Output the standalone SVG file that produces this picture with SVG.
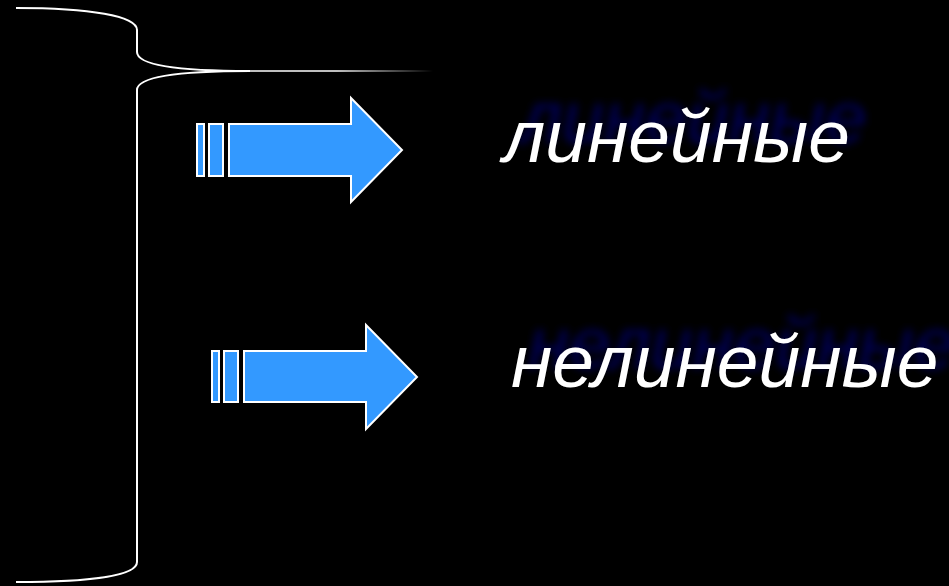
<svg xmlns="http://www.w3.org/2000/svg" width="949" height="586" viewBox="0 0 949 586">
  <defs>
    <linearGradient id="fadeLine" gradientUnits="userSpaceOnUse" x1="220" y1="71" x2="433" y2="71">
      <stop offset="0" stop-color="#fff" stop-opacity="1"/>
      <stop offset="0.55" stop-color="#fff" stop-opacity="1"/>
      <stop offset="1" stop-color="#fff" stop-opacity="0"/>
    </linearGradient>
    <filter id="blur" x="-10%" y="-40%" width="120%" height="180%">
      <feGaussianBlur stdDeviation="4"/>
    </filter>
  </defs>
  <style>
    .bracket { fill: none; stroke: #fff; stroke-width: 2; }
    .arrow { fill: #3399FF; stroke: #fff; stroke-width: 2; }
    .label { font-family: "Liberation Sans", Arial, sans-serif; font-style: italic; font-size: 75px; fill: #fff; }
    .shadow { font-family: "Liberation Sans", Arial, sans-serif; font-style: italic; font-size: 75px; fill: #00005a; filter: url(#blur); }
  </style>
  <rect width="949" height="586" fill="#000"/>
  <g id="connectors">
    <path class="bracket" d="M16,8 C90,8 137,16 137,30 L137,52 C137,66 185,71 250,71"/>
    <path class="bracket" d="M250,71 C185,71 137,76 137,90 L137,562 C137,576 90,582 16,582"/>
    <line x1="220" y1="71" x2="433" y2="71" stroke="url(#fadeLine)" stroke-width="1.5"/>
  </g>
  <g id="arrow1">
    <rect class="arrow" x="197" y="124" width="7" height="52"/>
    <rect class="arrow" x="209" y="124" width="14" height="52"/>
    <path class="arrow" d="M229,124 L351,124 L351,98 L402,150 L351,202 L351,176 L229,176 Z"/>
  </g>
  <g id="arrow2">
    <rect class="arrow" x="212" y="351" width="7" height="51"/>
    <rect class="arrow" x="224" y="351" width="14" height="51"/>
    <path class="arrow" d="M244,351 L366,351 L366,325 L417,377 L366,429 L366,402 L244,402 Z"/>
  </g>
  <g id="label1">
    <text class="shadow" x="520" y="143">линейные</text>
    <text class="label" x="503" y="162">линейные</text>
  </g>
  <g id="label2">
    <text class="shadow" x="528" y="369">нелинейные</text>
    <text class="label" x="511" y="387">нелинейные</text>
  </g>
</svg>
